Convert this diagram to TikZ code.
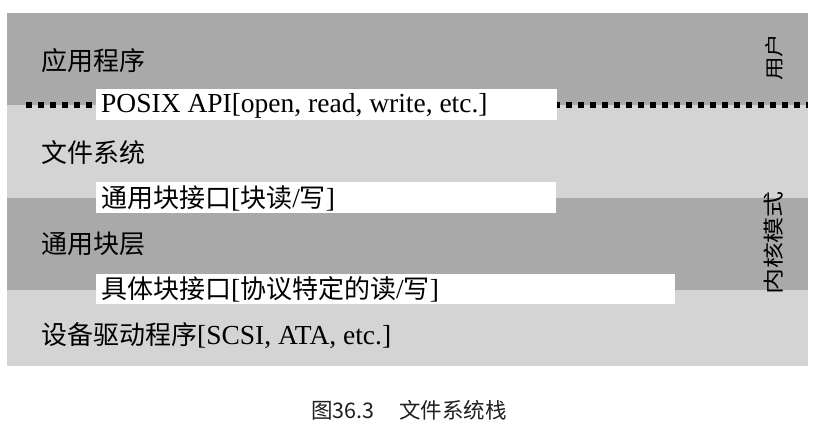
\documentclass[tikz,border=0pt]{standalone}
\usepackage{fontspec}
\setmainfont{Liberation Serif}
\newfontfamily\cjk{Noto Sans CJK SC}[Scale=0.945]
\newfontfamily\capfont{Noto Sans CJK SC}
\definecolor{banddark}{RGB}{169,169,169}
\definecolor{bandlight}{RGB}{212,212,212}
\definecolor{captext}{RGB}{30,30,30}
\begin{document}
\begin{tikzpicture}[x=1pt,y=-1pt,
  band/.style={fill=#1,draw=none},
  whitebox/.style={fill=white,draw=none},
  layertext/.style={anchor=west,inner sep=0pt,font=\fontsize{27.5}{30}\selectfont},
  sidetext/.style={rotate=90,inner sep=0pt,font=\cjk\fontsize{#1}{28}\selectfont},
  boundary/.style={line width=6pt,dash pattern=on 6pt off 6pt,black}]
\useasboundingbox (0,0) rectangle (821,432);
% bands
\fill[band=banddark]  (7,13)  rectangle (808,105);
\fill[band=bandlight] (7,105) rectangle (808,198);
\fill[band=banddark]  (7,198) rectangle (808,290);
\fill[band=bandlight] (7,290) rectangle (808,366);
% user/kernel boundary
\draw[boundary] (26,104.5) -- (808,104.5);
% interface boxes
\fill[whitebox] (96,89)  rectangle (557,120);
\fill[whitebox] (96,182) rectangle (556,213);
\fill[whitebox] (96,274) rectangle (675,304);
% layer labels
\node[layertext] (app) at (41,61) {{\cjk 应用程序}};
\node[layertext] (posix) at (101,105.5) {POSIX API[open, read, write, etc.]};
\node[layertext] (fs) at (41,153) {{\cjk 文件系统}};
\node[layertext] (gbi) at (101,198) {{\cjk 通用块接口}[{\cjk 块读}/{\cjk 写}]};
\node[layertext] (gbl) at (41,244) {{\cjk 通用块层}};
\node[layertext] (sbi) at (101,289.5) {{\cjk 具体块接口}[{\cjk 协议特定的读}/{\cjk 写}]};
\node[layertext] (drv) at (41,336) {{\cjk 设备驱动程序}[SCSI, ATA, etc.]};
% side labels
\node[sidetext=25] (user) at (774,57) {\scalebox{1}[0.8]{用户}};
\node[sidetext=27.5] (kernel) at (774,243) {\scalebox{1}[0.8]{内核模式}};
% caption
\node[anchor=west,inner sep=0pt,text=captext,font=\capfont\fontsize{21.5}{24}\selectfont] (cap) at (311,410) {图36.3\hspace{25pt}文件系统栈};
\end{tikzpicture}
\end{document}
